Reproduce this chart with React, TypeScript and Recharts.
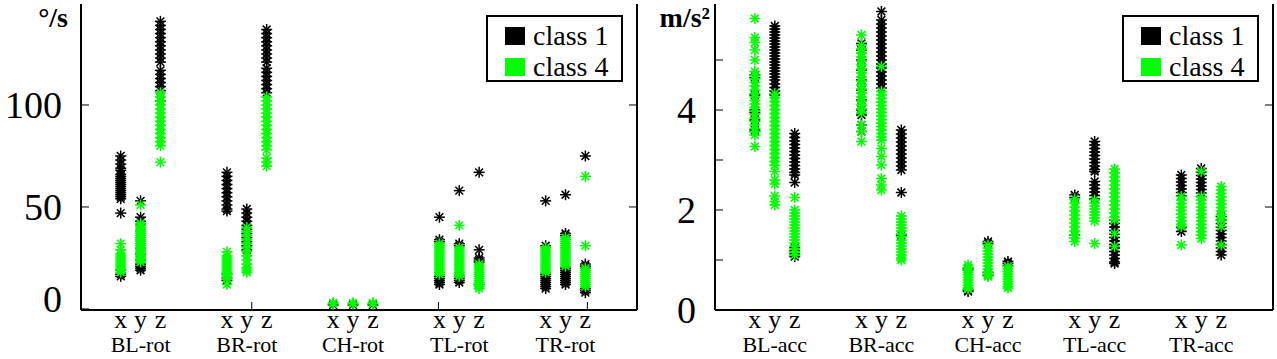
import React from "react";
import { Label, Legend, Scatter, ScatterChart, XAxis, YAxis } from "recharts";

const SERIF = "Liberation Serif, Tinos, Times New Roman, DejaVu Serif, serif";
const BLACK = "#000000";
const GREEN = "#00ff00";
const GROUP_GAP = 5.35;
const X_DOMAIN = [-2, 26];

const AXIS_LETTERS = ["x", "y", "z"];
const ROT_GROUPS = ["BL-rot", "BR-rot", "CH-rot", "TL-rot", "TR-rot"];
const ACC_GROUPS = ["BL-acc", "BR-acc", "CH-acc", "TL-acc", "TR-acc"];
const ROT_TICKS = [0, 50, 100];
const ROT_RIGHT_TICKS = [50, 100];
const ACC_TICKS = [0, 1, 2, 3, 4, 5];
const ACC_LABELED = [0, 2, 4];
const ACC_RIGHT_TICKS = [2.06, 4.1];
const ROT_MARKS = [6.6, 16.0, 23.5];

// angular rate (°/s), one [x, y, z] triple of samples per sensor
const blRot1 = [
  [75, 73, 71, 69, 68, 66, 65, 64, 63, 62, 61, 60, 59, 58, 57, 56, 55, 54, 47, 19, 17, 16],
  [53, 45, 43, 41, 38, 34, 30, 27, 24, 22, 21, 20, 19],
  [141, 139, 137, 135, 133, 131, 129, 127, 125, 123, 121, 117, 115, 113, 111, 109, 107, 102],
];
const blRot4 = [
  [32, 29, 27, 26, 25, 24, 23, 22, 21, 20, 19, 18],
  [51, 42, 41, 40, 39, 38, 37, 36, 35, 34, 33, 32, 31, 30, 29, 28, 27, 26, 25, 24, 23],
  [106, 104, 102, 100, 98, 96, 94, 92, 90, 88, 86, 84, 82, 80, 72],
];
const brRot1 = [
  [67, 65, 63, 61, 59, 57, 55, 53, 51, 49, 48, 17, 15, 14],
  [49, 47, 45, 43, 41, 39, 37, 35, 33, 31, 29],
  [137, 135, 133, 131, 129, 127, 125, 123, 121, 118, 116, 114, 112, 110, 108, 106],
];
const brRot4 = [
  [28, 26, 25, 24, 23, 22, 21, 20, 19, 18, 17, 16, 15, 12],
  [40, 38, 36, 34, 32, 30, 28, 26, 24, 22, 20, 19, 18],
  [104, 102, 100, 98, 96, 94, 92, 90, 88, 86, 84, 82, 80, 78, 74, 72, 70],
];
const chRot1 = [[2], [2], [2]];
const chRot4 = [[2.5, 3], [2.5, 3], [2.5, 3]];
const tlRot1 = [
  [45, 34, 33, 16, 15, 14, 13, 12],
  [58, 32, 31, 16, 15, 14, 13],
  [67, 29, 25, 24, 23, 12],
];
const tlRot4 = [
  [32, 31, 30, 29, 28, 27, 26, 25, 24, 23, 22, 21, 20, 19, 18, 17],
  [41, 30, 29, 28, 27, 26, 25, 24, 23, 22, 21, 20, 19, 18, 17, 16],
  [22, 21, 20, 19, 18, 17, 16, 15, 14, 13, 12, 11, 10],
];
const trRot1 = [
  [53, 31, 17, 16, 15, 14, 13, 12, 11, 10],
  [56, 37, 36, 20, 19, 18, 17, 16, 15, 14, 13, 12],
  [75, 22, 21, 20, 10, 9, 8],
];
const trRot4 = [
  [30, 29, 28, 27, 26, 25, 24, 23, 22, 21, 20, 19, 18],
  [35, 34, 33, 32, 31, 30, 29, 28, 27, 26, 25, 24, 23, 22, 21],
  [65, 31, 20, 19, 18, 17, 16, 15, 14, 13, 12, 11],
];

// acceleration (m/s²)
const blAcc1 = [
  [4.7, 4.65, 4.3, 4.0, 3.95, 3.8, 3.6, 3.57],
  [5.68, 5.62, 5.56, 5.5, 5.44, 5.38, 5.32, 5.26, 5.2, 5.14, 5.08, 5.02, 4.96, 4.9, 4.84, 4.78, 4.72, 4.66, 4.6, 4.52, 4.45, 4.38, 4.3],
  [3.53, 3.45, 3.38, 3.31, 3.24, 3.17, 3.1, 3.03, 2.96, 2.89, 2.82, 2.75, 2.7, 2.55, 1.25, 1.18, 1.12, 1.07],
];
const blAcc4 = [
  [5.83, 5.45, 5.35, 5.2, 5.0, 4.77, 4.7, 4.62, 4.55, 4.48, 4.4, 4.33, 4.26, 4.19, 4.12, 4.05, 3.98, 3.91, 3.84, 3.77, 3.7, 3.63, 3.57, 3.5, 3.27],
  [4.33, 4.25, 4.17, 4.09, 4.01, 3.93, 3.85, 3.77, 3.69, 3.61, 3.53, 3.45, 3.37, 3.29, 3.21, 3.13, 3.05, 2.97, 2.89, 2.77, 2.6, 2.52, 2.28, 2.17, 2.1],
  [2.25, 2.0, 1.94, 1.88, 1.82, 1.76, 1.7, 1.64, 1.58, 1.52, 1.46, 1.4, 1.34, 1.28, 1.22, 1.16, 1.1],
];
const brAcc1 = [
  [5.33, 5.2, 5.0, 4.8, 4.6, 4.4, 4.2, 4.0, 3.9, 3.7, 3.57],
  [5.97, 5.8, 5.72, 5.64, 5.56, 5.48, 5.4, 5.32, 5.24, 5.16, 5.08, 5.0, 4.92, 4.84, 4.76, 4.68, 4.6, 4.52, 4.44],
  [3.6, 3.52, 3.44, 3.36, 3.28, 3.2, 3.12, 3.04, 2.96, 2.88, 2.8, 2.35, 1.5],
];
const brAcc4 = [
  [5.5, 5.3, 5.22, 5.14, 5.06, 4.98, 4.9, 4.82, 4.74, 4.66, 4.58, 4.5, 4.42, 4.34, 4.26, 4.18, 4.1, 4.02, 3.94, 3.7, 3.57, 3.37],
  [4.87, 4.37, 4.3, 4.23, 4.16, 4.09, 4.02, 3.95, 3.88, 3.81, 3.74, 3.67, 3.6, 3.53, 3.46, 3.4, 3.23, 3.07, 2.9, 2.63, 2.5, 2.4],
  [1.88, 1.82, 1.76, 1.7, 1.64, 1.58, 1.52, 1.46, 1.4, 1.34, 1.28, 1.22, 1.16, 1.1, 1.04, 1.0],
];
const chAcc1 = [
  [0.84, 0.8, 0.4, 0.37],
  [1.37, 1.33, 0.75, 0.7],
  [0.97, 0.93, 0.88],
];
const chAcc4 = [
  [0.9, 0.85, 0.8, 0.75, 0.7, 0.65, 0.6, 0.55, 0.5, 0.45, 0.42],
  [1.3, 1.24, 1.18, 1.12, 1.06, 1.0, 0.94, 0.88, 0.82, 0.76, 0.7, 0.67],
  [0.87, 0.82, 0.77, 0.72, 0.67, 0.62, 0.57, 0.52, 0.47, 0.44],
];
const tlAcc1 = [
  [2.3, 2.25, 1.5],
  [3.37, 3.3, 3.23, 3.16, 3.09, 3.02, 2.95, 2.88, 2.81, 2.77, 2.57, 2.5, 2.43, 2.36, 2.29, 2.22],
  [1.8, 1.73, 1.66, 1.59, 1.52, 1.45, 1.38, 1.31, 1.24, 1.17, 1.1, 1.03, 0.96, 0.93],
];
const tlAcc4 = [
  [2.22, 2.14, 2.06, 1.98, 1.9, 1.82, 1.74, 1.66, 1.58, 1.5, 1.44, 1.37],
  [2.2, 2.14, 2.08, 2.02, 1.96, 1.9, 1.84, 1.78, 1.33],
  [2.82, 2.74, 2.66, 2.58, 2.5, 2.42, 2.34, 2.26, 2.18, 2.1, 2.02, 1.94, 1.86, 1.8, 1.53, 1.27],
];
const trAcc1 = [
  [2.7, 2.63, 2.56, 2.49, 2.42, 2.35, 2.28, 1.65, 1.57],
  [2.83, 2.76, 2.69, 2.62, 2.55, 2.48, 2.41, 2.34, 2.27],
  [1.87, 1.8, 1.73, 1.66, 1.59, 1.52, 1.45, 1.38, 1.31, 1.24, 1.17, 1.1],
];
const trAcc4 = [
  [2.27, 2.2, 2.13, 2.06, 1.99, 1.92, 1.85, 1.78, 1.71, 1.67, 1.3],
  [2.77, 2.27, 2.2, 2.13, 2.06, 1.99, 1.92, 1.85, 1.78, 1.71, 1.64, 1.57, 1.5, 1.43],
  [2.47, 2.4, 2.33, 2.26, 2.19, 2.12, 2.05, 1.98, 1.91, 1.84, 1.8, 1.67, 1.3],
];

const rotClass1 = [blRot1, brRot1, chRot1, tlRot1, trRot1];
const rotClass4 = [blRot4, brRot4, chRot4, tlRot4, trRot4];
const accClass1 = [blAcc1, brAcc1, chAcc1, tlAcc1, trAcc1];
const accClass4 = [blAcc4, brAcc4, chAcc4, tlAcc4, trAcc4];

function toPoints(sets: number[][][]) {
  return sets.flatMap((axes, g) =>
    axes.flatMap((vals, i) => vals.map((v) => ({ pos: g * GROUP_GAP + i, v })))
  );
}

const starShape = (color: string) => (p: any) => {
  const r = 5.5;
  const d = r * 0.7071;
  const { cx, cy } = p;
  return (
    <g stroke={color} strokeWidth={1.5}>
      <line x1={cx - r} y1={cy} x2={cx + r} y2={cy} />
      <line x1={cx} y1={cy - r} x2={cx} y2={cy + r} />
      <line x1={cx - d} y1={cy - d} x2={cx + d} y2={cy + d} />
      <line x1={cx - d} y1={cy + d} x2={cx + d} y2={cy - d} />
    </g>
  );
};

function LegendBox({ payload }: any) {
  return (
    <div
      style={{
        width: 137,
        height: 67,
        border: "2px solid #000",
        boxSizing: "border-box",
        background: "#fff",
        fontFamily: SERIF,
        fontSize: 28,
        position: "relative",
      }}
    >
      {(payload || []).map((e: any, i: number) => (
        <div
          key={e.value}
          style={{
            position: "absolute",
            left: 17,
            top: 4 + i * 31,
            height: 30,
            display: "flex",
            alignItems: "center",
            lineHeight: 1,
          }}
        >
          <span style={{ width: 20, height: 18, background: e.color, marginRight: 8, display: "inline-block" }} />
          <span>{e.value}</span>
        </div>
      ))}
    </div>
  );
}

type PanelProps = {
  width: number;
  plotLeft: number;
  rightW: number;
  yDomain: number[];
  yTicks: number[];
  yLabeled: number[];
  rightTicks: number[];
  groups: string[];
  class1: number[][][];
  class4: number[][][];
  unit: string;
  unitX: number;
  marks: number[];
  legendLeft: number;
  zeroLift: number;
};

function Panel(props: PanelProps) {
  const { width, plotLeft, rightW, yDomain, yTicks, yLabeled, rightTicks, groups, class1, class4, unit, unitX, marks, legendLeft, zeroLift } = props;
  const cols = groups.flatMap((_, g) => AXIS_LETTERS.map((_, i) => g * GROUP_GAP + i));
  const xTicks = [...cols, ...marks];

  const xTick = (p: any) => {
    const { x, y, payload } = p;
    const idx = cols.indexOf(payload.value);
    if (idx < 0) {
      return <line x1={x} x2={x} y1={y} y2={y - 8} stroke="#000" strokeWidth={1} />;
    }
    const g = Math.floor(idx / 3);
    const i = idx % 3;
    return (
      <g fontFamily={SERIF} fill="#000">
        <text x={x} y={y + 18} textAnchor="middle" fontSize={26}>
          {AXIS_LETTERS[i]}
        </text>
        {i === 1 && (
          <text x={x} y={y + 42} textAnchor="middle" fontSize={22}>
            {groups[g]}
          </text>
        )}
      </g>
    );
  };

  const yTick = (p: any) => {
    const { x, y, payload } = p;
    const ly = payload.value === 0 ? y - zeroLift : y;
    return (
      <g>
        <line x1={x} x2={x + 8} y1={y} y2={y} stroke="#000" strokeWidth={1} />
        {yLabeled.includes(payload.value) && (
          <text x={x - 19} y={ly} textAnchor="end" dominantBaseline="central" fontFamily={SERIF} fontSize={38} fill="#000">
            {payload.value}
          </text>
        )}
      </g>
    );
  };

  const rTick = (p: any) => <line x1={p.x} x2={p.x - 8} y1={p.y} y2={p.y} stroke="#000" strokeWidth={1} />;

  return (
    <ScatterChart width={width} height={359} margin={{ top: 4, right: 0, bottom: 0, left: 0 }}>
      <XAxis
        xAxisId="b"
        type="number"
        dataKey="pos"
        domain={X_DOMAIN}
        allowDataOverflow
        ticks={xTicks}
        interval={0}
        tickSize={0}
        tickMargin={0}
        tickLine={false}
        tick={xTick}
        height={49}
        axisLine={{ stroke: "#000", strokeWidth: 2 }}
      />
      <XAxis
        xAxisId="t"
        orientation="top"
        type="number"
        domain={X_DOMAIN}
        allowDataOverflow
        tick={false}
        tickLine={false}
        height={0}
        axisLine={{ stroke: "#000", strokeWidth: 2 }}
      />
      <YAxis
        yAxisId="l"
        type="number"
        dataKey="v"
        domain={yDomain}
        allowDataOverflow
        ticks={yTicks}
        interval={0}
        tickSize={0}
        tickMargin={0}
        tickLine={false}
        tick={yTick}
        width={plotLeft}
        axisLine={{ stroke: "#000", strokeWidth: 2 }}
      >
        <Label
          content={() => (
            <text x={unitX} y={27} textAnchor="end" fontFamily={SERIF} fontWeight="bold" fontSize={28} fill="#000">
              {unit}
            </text>
          )}
        />
      </YAxis>
      <YAxis
        yAxisId="r"
        orientation="right"
        type="number"
        domain={yDomain}
        allowDataOverflow
        ticks={rightTicks}
        interval={0}
        tickSize={0}
        tickMargin={0}
        tickLine={false}
        tick={rTick}
        width={rightW}
        axisLine={{ stroke: "#000", strokeWidth: 2 }}
      />
      <Legend
        layout="vertical"
        align="center"
        verticalAlign="middle"
        wrapperStyle={{ left: legendLeft, top: 15, width: 137, height: 67 }}
        content={(lp: any) => <LegendBox payload={lp.payload} />}
      />
      <Scatter
        name="class 1"
        xAxisId="b"
        yAxisId="l"
        data={toPoints(class1)}
        fill={BLACK}
        shape={starShape(BLACK)}
        isAnimationActive={false}
      />
      <Scatter
        name="class 4"
        xAxisId="b"
        yAxisId="l"
        data={toPoints(class4)}
        fill={GREEN}
        shape={starShape(GREEN)}
        isAnimationActive={false}
      />
    </ScatterChart>
  );
}

export default function App() {
  return (
    <div style={{ position: "absolute", left: 0, top: 0, width: 1277, height: 359, background: "#fff" }}>
      <div style={{ position: "absolute", left: 0, top: 0 }}>
        <Panel
          width={640}
          plotLeft={81}
          rightW={3}
          yDomain={[-0.5, 149.5]}
          yTicks={ROT_TICKS}
          yLabeled={ROT_TICKS}
          rightTicks={ROT_RIGHT_TICKS}
          groups={ROT_GROUPS}
          class1={rotClass1}
          class4={rotClass4}
          unit="°/s"
          unitX={68}
          marks={ROT_MARKS}
          legendLeft={486}
          zeroLift={10}
        />
      </div>
      <div style={{ position: "absolute", left: 640, top: 0 }}>
        <Panel
          width={637}
          plotLeft={75}
          rightW={4}
          yDomain={[0, 6.12]}
          yTicks={ACC_TICKS}
          yLabeled={ACC_LABELED}
          rightTicks={ACC_RIGHT_TICKS}
          groups={ACC_GROUPS}
          class1={accClass1}
          class4={accClass4}
          unit="m/s²"
          unitX={70}
          marks={[]}
          legendLeft={482}
          zeroLift={0}
        />
      </div>
    </div>
  );
}
